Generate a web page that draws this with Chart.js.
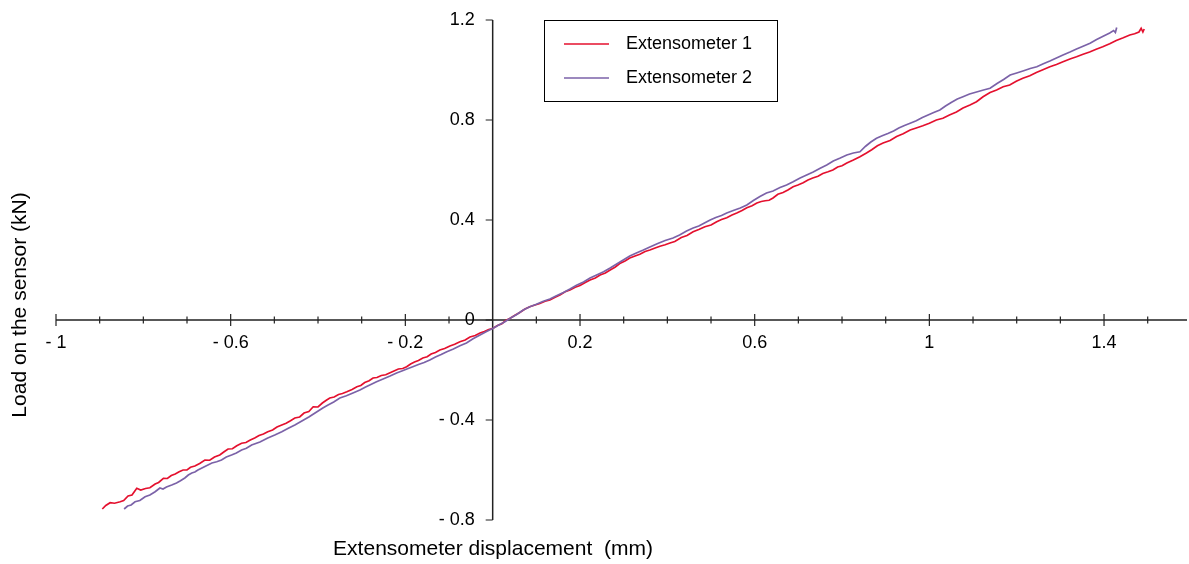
<!DOCTYPE html>
<html>
<head>
<meta charset="utf-8">
<script src="https://cdn.jsdelivr.net/npm/chart.js@4/dist/chart.umd.min.js"></script>
<style>
  body { margin: 0; background: #fff; }
  canvas { display: block; }
</style>
</head>
<body>
<canvas id="chart" width="1189" height="564"></canvas>
<script>
// Extensometer 1 (red)
const ext1X = [-0.894,-0.886,-0.876,-0.866,-0.853,-0.845,-0.835,-0.826,-0.815,-0.806,-0.795,-0.785,-0.773,-0.765,-0.754,-0.745,-0.736,-0.727,-0.718,-0.709,-0.700,-0.692,-0.682,-0.671,-0.659,-0.648,-0.637,-0.625,-0.615,-0.606,-0.596,-0.586,-0.575,-0.565,-0.555,-0.545,-0.535,-0.525,-0.515,-0.504,-0.494,-0.483,-0.473,-0.463,-0.453,-0.442,-0.432,-0.421,-0.411,-0.400,-0.390,-0.381,-0.373,-0.363,-0.353,-0.344,-0.334,-0.322,-0.311,-0.302,-0.293,-0.283,-0.274,-0.265,-0.255,-0.245,-0.235,-0.226,-0.216,-0.206,-0.197,-0.188,-0.179,-0.170,-0.160,-0.150,-0.141,-0.131,-0.121,-0.110,-0.098,-0.087,-0.075,-0.063,-0.052,-0.040,-0.029,-0.019,-0.009,0.001,0.011,0.021,0.030,0.040,0.051,0.062,0.074,0.085,0.097,0.108,0.120,0.131,0.143,0.154,0.166,0.177,0.189,0.200,0.212,0.223,0.235,0.246,0.258,0.269,0.280,0.291,0.303,0.314,0.326,0.337,0.349,0.360,0.372,0.383,0.395,0.406,0.417,0.432,0.445,0.459,0.472,0.486,0.500,0.513,0.524,0.536,0.548,0.559,0.571,0.582,0.594,0.605,0.615,0.624,0.633,0.642,0.653,0.665,0.676,0.688,0.699,0.711,0.722,0.733,0.745,0.756,0.768,0.779,0.790,0.800,0.811,0.826,0.841,0.856,0.868,0.881,0.894,0.910,0.925,0.940,0.956,0.970,0.985,1.000,1.016,1.031,1.046,1.062,1.077,1.093,1.108,1.123,1.139,1.154,1.169,1.184,1.199,1.214,1.230,1.245,1.260,1.276,1.291,1.306,1.322,1.337,1.352,1.367,1.382,1.397,1.413,1.428,1.444,1.459,1.470,1.480,1.485,1.489,1.492];
const ext1Y = [-0.756,-0.742,-0.731,-0.733,-0.727,-0.722,-0.704,-0.700,-0.673,-0.680,-0.674,-0.671,-0.656,-0.650,-0.633,-0.634,-0.622,-0.616,-0.607,-0.600,-0.600,-0.589,-0.584,-0.574,-0.560,-0.561,-0.548,-0.540,-0.527,-0.516,-0.515,-0.503,-0.493,-0.490,-0.480,-0.472,-0.462,-0.456,-0.447,-0.440,-0.428,-0.420,-0.413,-0.403,-0.392,-0.388,-0.372,-0.366,-0.347,-0.348,-0.332,-0.321,-0.312,-0.308,-0.298,-0.294,-0.287,-0.278,-0.267,-0.262,-0.250,-0.243,-0.232,-0.230,-0.222,-0.219,-0.211,-0.204,-0.196,-0.194,-0.187,-0.176,-0.168,-0.162,-0.152,-0.147,-0.136,-0.130,-0.120,-0.114,-0.104,-0.097,-0.087,-0.080,-0.068,-0.062,-0.052,-0.046,-0.038,-0.033,-0.022,-0.015,-0.002,0.007,0.019,0.030,0.044,0.053,0.060,0.066,0.075,0.080,0.091,0.100,0.113,0.120,0.131,0.138,0.150,0.160,0.168,0.180,0.188,0.200,0.211,0.226,0.236,0.248,0.256,0.263,0.274,0.280,0.288,0.295,0.301,0.308,0.314,0.330,0.338,0.353,0.362,0.373,0.380,0.393,0.402,0.409,0.420,0.428,0.438,0.449,0.457,0.468,0.474,0.477,0.479,0.488,0.503,0.510,0.520,0.533,0.540,0.549,0.560,0.568,0.575,0.586,0.593,0.600,0.612,0.617,0.628,0.640,0.653,0.668,0.681,0.697,0.708,0.718,0.734,0.745,0.760,0.768,0.777,0.787,0.800,0.807,0.820,0.832,0.848,0.860,0.873,0.893,0.910,0.920,0.933,0.940,0.955,0.967,0.977,0.990,1.001,1.013,1.022,1.033,1.044,1.053,1.063,1.072,1.083,1.093,1.105,1.118,1.129,1.140,1.145,1.152,1.167,1.152,1.164];

// Extensometer 2 (purple)
const ext2X = [-0.844,-0.836,-0.828,-0.819,-0.808,-0.796,-0.785,-0.773,-0.762,-0.755,-0.747,-0.735,-0.724,-0.715,-0.705,-0.697,-0.689,-0.682,-0.675,-0.659,-0.643,-0.632,-0.621,-0.610,-0.598,-0.587,-0.575,-0.564,-0.552,-0.533,-0.515,-0.499,-0.483,-0.468,-0.453,-0.437,-0.421,-0.405,-0.389,-0.377,-0.364,-0.350,-0.335,-0.320,-0.304,-0.291,-0.279,-0.266,-0.251,-0.235,-0.220,-0.208,-0.195,-0.183,-0.170,-0.157,-0.144,-0.131,-0.118,-0.105,-0.090,-0.075,-0.060,-0.045,-0.029,-0.014,0.001,0.014,0.027,0.040,0.055,0.070,0.085,0.100,0.116,0.131,0.146,0.162,0.177,0.192,0.208,0.223,0.238,0.254,0.269,0.284,0.299,0.314,0.329,0.345,0.360,0.378,0.395,0.413,0.428,0.444,0.459,0.472,0.485,0.498,0.511,0.524,0.536,0.551,0.567,0.582,0.597,0.612,0.627,0.642,0.658,0.673,0.688,0.704,0.719,0.734,0.750,0.765,0.780,0.796,0.811,0.826,0.841,0.854,0.866,0.879,0.892,0.905,0.918,0.930,0.943,0.956,0.970,0.984,0.997,1.010,1.024,1.037,1.050,1.064,1.077,1.092,1.108,1.124,1.139,1.155,1.170,1.185,1.200,1.216,1.231,1.246,1.261,1.276,1.291,1.306,1.322,1.337,1.352,1.368,1.383,1.398,1.413,1.422,1.426,1.429];
const ext2Y = [-0.756,-0.744,-0.740,-0.727,-0.722,-0.707,-0.700,-0.687,-0.672,-0.676,-0.668,-0.660,-0.652,-0.643,-0.632,-0.620,-0.612,-0.608,-0.600,-0.586,-0.572,-0.567,-0.560,-0.548,-0.540,-0.532,-0.520,-0.513,-0.500,-0.488,-0.472,-0.460,-0.447,-0.433,-0.420,-0.404,-0.388,-0.370,-0.352,-0.340,-0.328,-0.312,-0.303,-0.292,-0.280,-0.268,-0.258,-0.247,-0.236,-0.224,-0.212,-0.204,-0.195,-0.187,-0.178,-0.170,-0.160,-0.148,-0.138,-0.127,-0.116,-0.103,-0.092,-0.075,-0.060,-0.046,-0.033,-0.020,-0.008,0.007,0.022,0.040,0.053,0.063,0.075,0.084,0.097,0.110,0.124,0.139,0.152,0.168,0.180,0.193,0.208,0.224,0.240,0.256,0.268,0.280,0.292,0.306,0.318,0.328,0.340,0.356,0.368,0.376,0.388,0.400,0.410,0.418,0.428,0.438,0.448,0.460,0.478,0.494,0.508,0.516,0.530,0.540,0.553,0.568,0.580,0.592,0.607,0.620,0.636,0.648,0.660,0.668,0.673,0.695,0.712,0.727,0.737,0.746,0.756,0.768,0.778,0.787,0.797,0.810,0.820,0.830,0.840,0.856,0.870,0.884,0.893,0.904,0.912,0.920,0.927,0.946,0.962,0.980,0.988,0.997,1.006,1.013,1.025,1.036,1.048,1.060,1.072,1.084,1.095,1.107,1.122,1.135,1.148,1.158,1.150,1.170];

const xMajorTicks = [-1, -0.6, -0.2, 0.2, 0.6, 1, 1.4];
const xMinorTicks = [-0.9,-0.8,-0.7,-0.5,-0.4,-0.3,-0.1,0.1,0.3,0.4,0.5,0.7,0.8,0.9,1.1,1.2,1.3,1.5];
const yTicks = [-0.8, -0.4, 0, 0.4, 0.8, 1.2];

const seriesNames = ['Extensometer 1', 'Extensometer 2'];
const red = '#e4102e';
const purple = '#7b62a8';
const axisColor = '#222';
const font = '18px "Liberation Sans", Arial, sans-serif';
const titleFont = '21px "Liberation Sans", Arial, sans-serif';

function toPoints(xs, ys) {
  return xs.map((x, i) => ({ x: x, y: ys[i] }));
}

function fmt(v) {
  v = Math.round(v * 10) / 10;
  return v < 0 ? '- ' + Math.abs(v) : String(v);
}

// axes cross at the origin, drawn from the chart's own scales
const originAxes = {
  id: 'originAxes',
  beforeDatasetsDraw(chart) {
    const ctx = chart.ctx;
    const xs = chart.scales.x, ys = chart.scales.y;
    const x0 = xs.getPixelForValue(0), y0 = ys.getPixelForValue(0);
    ctx.save();
    ctx.strokeStyle = axisColor;
    ctx.lineWidth = 1.5;
    ctx.beginPath();
    ctx.moveTo(xs.getPixelForValue(-1), y0);
    ctx.lineTo(chart.chartArea.right, y0);
    ctx.moveTo(x0, ys.getPixelForValue(1.2));
    ctx.lineTo(x0, ys.getPixelForValue(-0.8));
    ctx.stroke();

    ctx.lineWidth = 1.2;
    ctx.beginPath();
    xMajorTicks.forEach(v => {
      const p = xs.getPixelForValue(v);
      ctx.moveTo(p, y0 - 6); ctx.lineTo(p, y0 + 6);
    });
    xMinorTicks.forEach(v => {
      const p = xs.getPixelForValue(v);
      ctx.moveTo(p, y0 - 3.5); ctx.lineTo(p, y0 + 3.5);
    });
    yTicks.forEach(v => {
      const p = ys.getPixelForValue(v);
      ctx.moveTo(x0 - 7, p); ctx.lineTo(x0, p);
    });
    ctx.stroke();

    ctx.fillStyle = '#000';
    ctx.font = font;
    ctx.textAlign = 'center';
    ctx.textBaseline = 'middle';
    xMajorTicks.forEach(v => {
      ctx.fillText(fmt(v), xs.getPixelForValue(v), y0 + 23);
    });
    ctx.textAlign = 'right';
    yTicks.forEach(v => {
      ctx.fillText(fmt(v), x0 - 18, ys.getPixelForValue(v));
    });

    ctx.font = titleFont;
    ctx.textAlign = 'center';
    ctx.fillText('Extensometer displacement  (mm)', 493, 549);
    ctx.translate(20, 305);
    ctx.rotate(-Math.PI / 2);
    ctx.fillText('Load on the sensor (kN)', 0, 0);
    ctx.restore();
  },
  afterDraw(chart) {
    const ctx = chart.ctx;
    ctx.save();
    ctx.strokeStyle = '#000';
    ctx.lineWidth = 1;
    ctx.strokeRect(544.5, 20.5, 233, 81);
    ctx.font = font;
    ctx.textAlign = 'left';
    ctx.textBaseline = 'middle';
    chart.data.datasets.forEach((ds, i) => {
      const y = 44 + i * 34;
      ctx.strokeStyle = ds.borderColor;
      ctx.lineWidth = 1.5;
      ctx.beginPath();
      ctx.moveTo(564, y); ctx.lineTo(609, y);
      ctx.stroke();
      ctx.fillStyle = '#000';
      ctx.fillText(ds.label, 626, y);
    });
    ctx.restore();
  }
};

new Chart(document.getElementById('chart'), {
  type: 'scatter',
  data: {
    datasets: [{
      label: seriesNames[0],
      data: toPoints(ext1X, ext1Y),
      borderColor: red,
      backgroundColor: red,
      borderWidth: 1.7,
      showLine: true,
      pointRadius: 0,
      tension: 0,
      order: 2
    }, {
      label: seriesNames[1],
      data: toPoints(ext2X, ext2Y),
      borderColor: purple,
      backgroundColor: purple,
      borderWidth: 1.7,
      showLine: true,
      pointRadius: 0,
      tension: 0,
      order: 1
    }]
  },
  options: {
    responsive: false,
    animation: false,
    layout: { padding: { left: 56, right: 2, top: 20, bottom: 44 } },
    scales: {
      x: { type: 'linear', min: -1, max: 1.59, display: false },
      y: { type: 'linear', min: -0.8, max: 1.2, display: false }
    },
    plugins: {
      legend: { display: false },
      tooltip: { enabled: false }
    }
  },
  plugins: [originAxes]
});
</script>
</body>
</html>
